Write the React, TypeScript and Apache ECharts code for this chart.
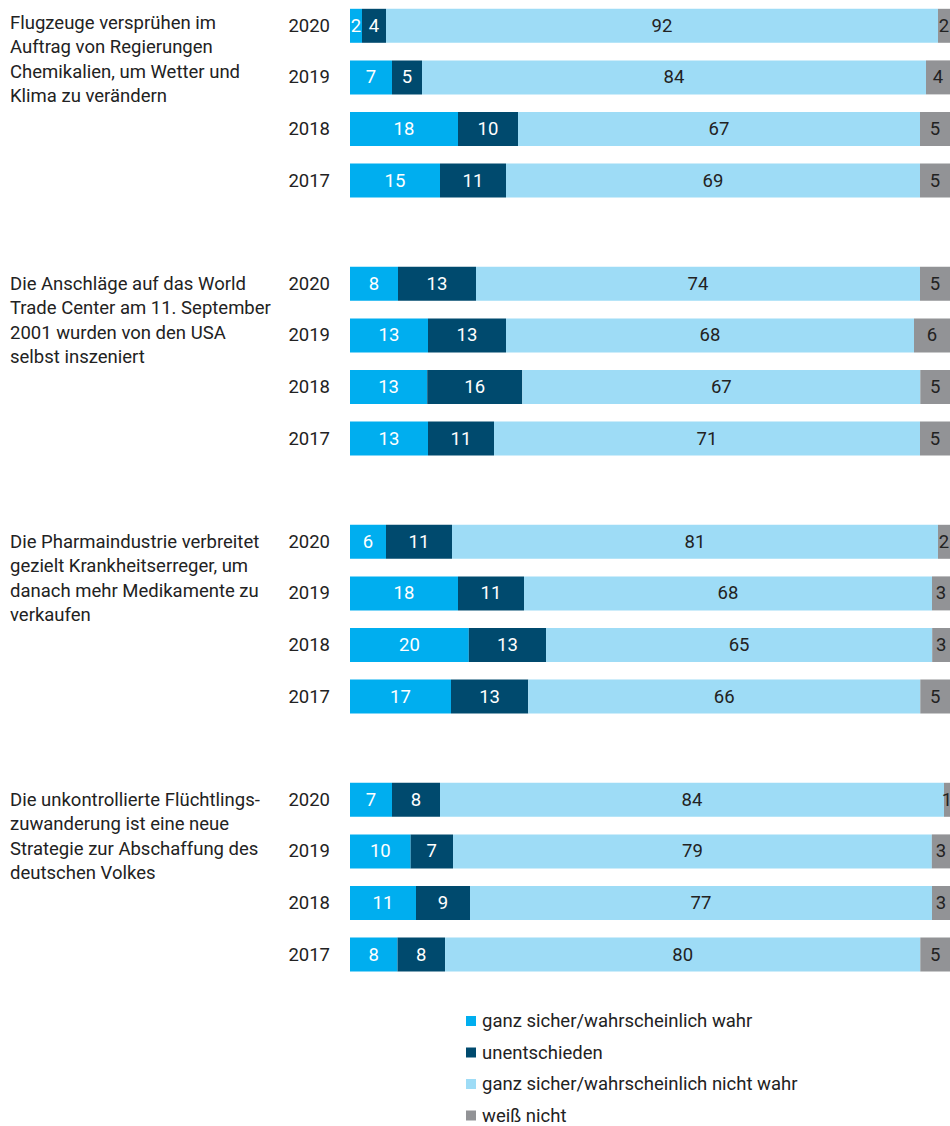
import React, { useEffect, useRef } from "react";
import * as echarts from "echarts";

const FONT = "Roboto, 'Noto Sans', sans-serif";
const FS = 18.5;

const years = ["2020", "2019", "2018", "2017"];

const questions = [
  "Flugzeuge versprühen im\nAuftrag von Regierungen\nChemikalien, um Wetter und\nKlima zu verändern",
  "Die Anschläge auf das World\nTrade Center am 11. September\n2001 wurden von den USA\nselbst inszeniert",
  "Die Pharmaindustrie verbreitet\ngezielt Krankheitserreger, um\ndanach mehr Medikamente zu\nverkaufen",
  "Die unkontrollierte Flüchtlings-\nzuwanderung ist eine neue\nStrategie zur Abschaffung des\ndeutschen Volkes",
];

const seriesNames = [
  "ganz sicher/wahrscheinlich wahr",
  "unentschieden",
  "ganz sicher/wahrscheinlich nicht wahr",
  "weiß nicht",
];

// per question, rows 2020, 2019, 2018, 2017
const wahr = [
  [2, 7, 18, 15],
  [8, 13, 13, 13],
  [6, 18, 20, 17],
  [7, 10, 11, 8],
];
const unentschieden = [
  [4, 5, 10, 11],
  [13, 13, 16, 11],
  [11, 11, 13, 13],
  [8, 7, 9, 8],
];
const nichtWahr = [
  [92, 84, 67, 69],
  [74, 68, 67, 71],
  [81, 68, 65, 66],
  [84, 79, 77, 80],
];
const weissNicht = [
  [2, 4, 5, 5],
  [5, 6, 5, 5],
  [2, 3, 3, 5],
  [1, 3, 3, 5],
];

const colors = ["#00AEEF", "#004A6E", "#9EDCF6", "#929396"];
const labelColors = ["#ffffff", "#ffffff", "#222222", "#222222"];

export default function App() {
  const ref = useRef<HTMLDivElement>(null);

  useEffect(() => {
    document.body.style.margin = "0";
    if (!ref.current) return;
    const chart = echarts.init(ref.current, undefined, { renderer: "svg" });

    const categories: string[] = [];
    const firstRowIndex: number[] = [];
    questions.forEach((_, g) => {
      if (g > 0) categories.push("");
      firstRowIndex.push(categories.length);
      years.forEach((y) => categories.push(y));
    });

    const sources = [wahr, unentschieden, nichtWahr, weissNicht];
    // bars are shown as share of each row's total (rounded values may sum to 99 or 101)
    const build = (s: number) => {
      const out: any[] = [];
      sources[s].forEach((group, g) => {
        if (g > 0) out.push("-");
        group.forEach((v, r) => {
          const total = sources.reduce((acc, src) => acc + src[g][r], 0);
          out.push({ value: (v / total) * 100, raw: v });
        });
      });
      return out;
    };

    const series = sources.map((_, i) => ({
      name: seriesNames[i],
      type: "bar",
      stack: "total",
      barWidth: 34,
      data: build(i),
      itemStyle: { color: colors[i] },
      label: {
        show: true,
        position: "inside",
        color: labelColors[i],
        fontSize: FS,
        fontFamily: FONT,
        formatter: (p: any) => String(p.data.raw),
      },
      emphasis: { disabled: true },
    }));

    chart.setOption({
      animation: false,
      grid: { left: 350, right: 0, top: 0, height: 980.4, containLabel: false },
      xAxis: {
        type: "value",
        min: 0,
        max: 100,
        show: false,
      },
      yAxis: {
        type: "category",
        inverse: true,
        data: categories,
        axisLine: { show: false },
        axisTick: { show: false },
        axisLabel: {
          color: "#222222",
          fontSize: FS,
          fontFamily: FONT,
          margin: 20,
        },
      },
      legend: {
        orient: "vertical",
        left: 466,
        top: 1011,
        padding: 0,
        itemWidth: 10,
        itemHeight: 10,
        itemGap: 11.5,
        icon: "rect",
        selectedMode: false,
        textStyle: {
          color: "#222222",
          fontSize: FS,
          fontFamily: FONT,
          lineHeight: 20,
          padding: [0, 0, 0, 1],
        },
        data: seriesNames,
      },
      series,
    });

    const lineHeight = 24.5;
    const graphics = questions.map((q, g) => {
      const y = chart.convertToPixel({ yAxisIndex: 0 }, firstRowIndex[g]) as number;
      return {
        type: "text",
        left: 10,
        top: y - lineHeight / 2 - (g === 0 ? 3 : 0),
        style: {
          text: q,
          fill: "#222222",
          fontSize: FS,
          fontFamily: FONT,
          lineHeight,
        },
      };
    });
    chart.setOption({ graphic: graphics });

    return () => chart.dispose();
  }, []);

  return <div ref={ref} style={{ width: 950, height: 1126 }} />;
}
